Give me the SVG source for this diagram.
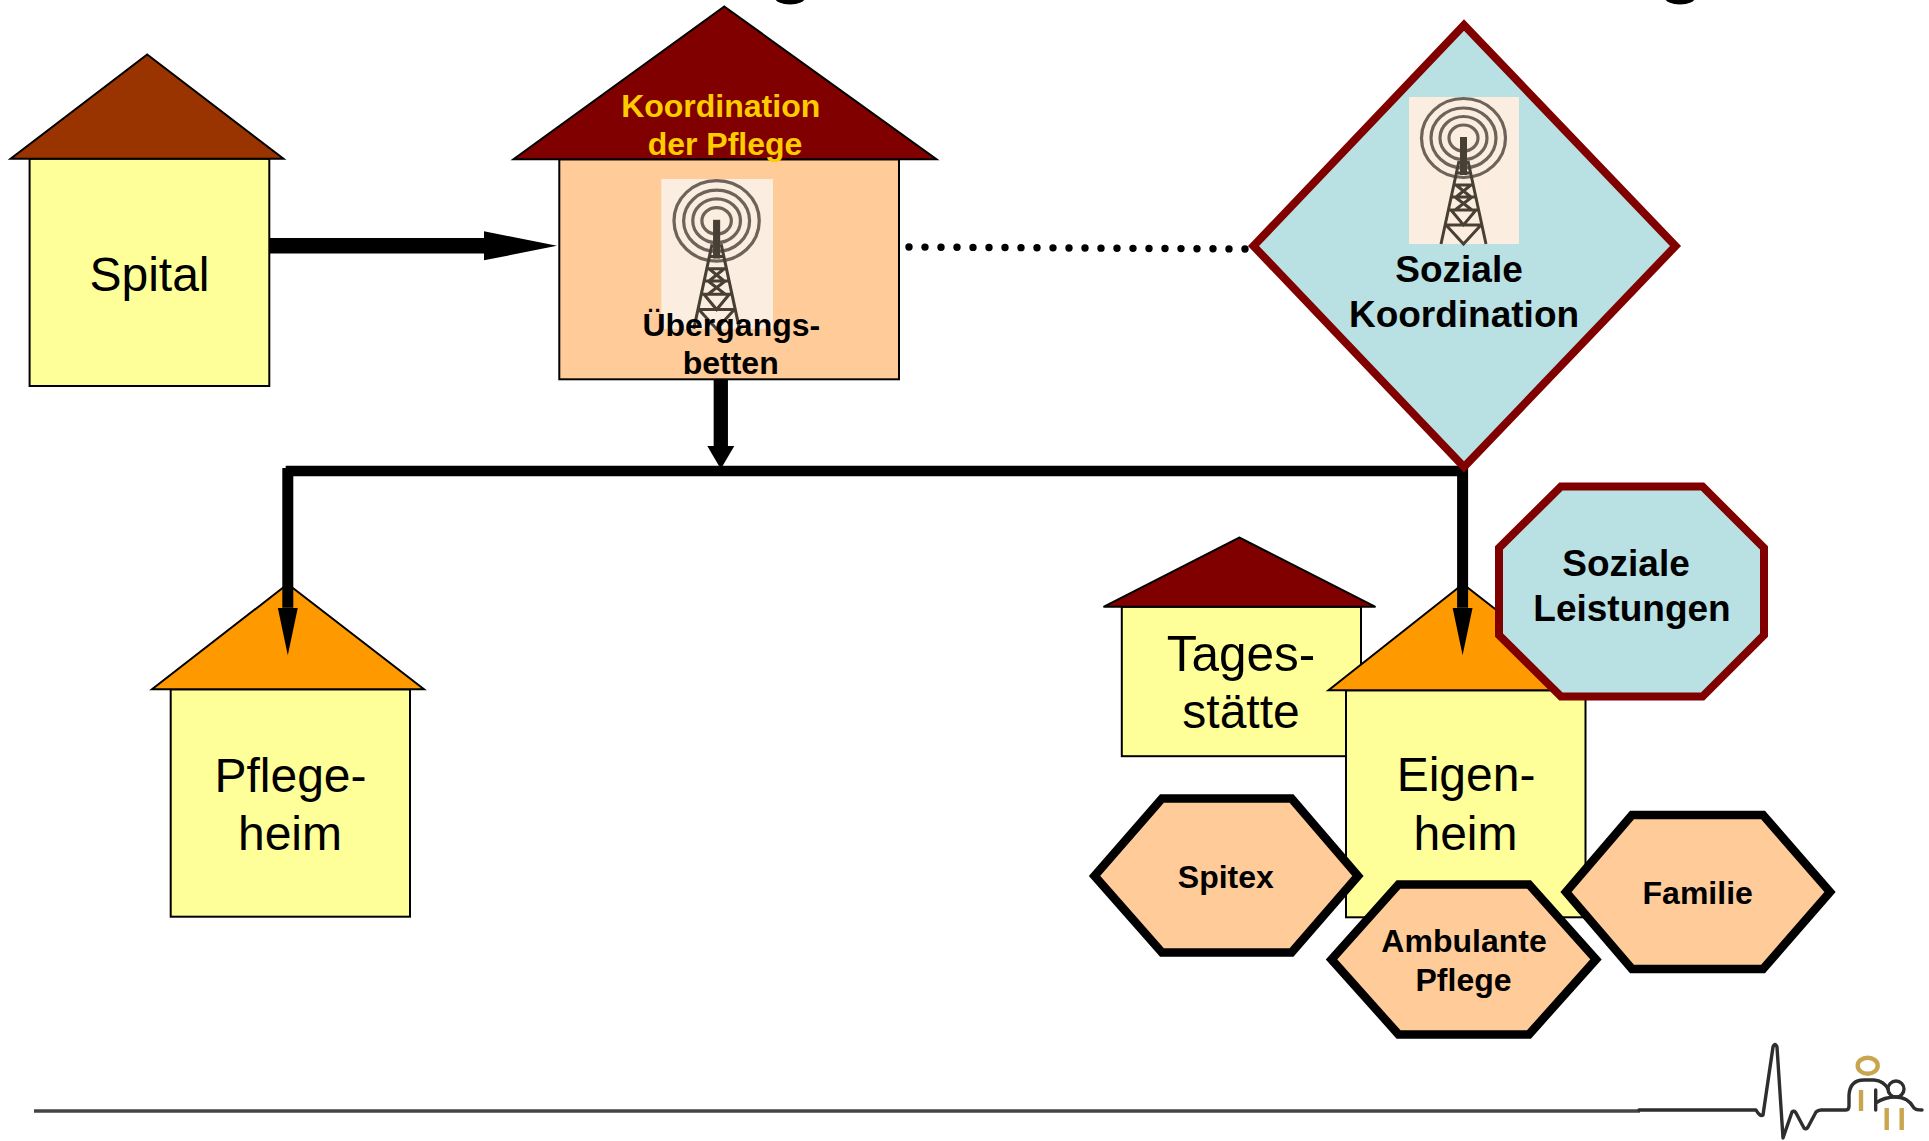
<svg xmlns="http://www.w3.org/2000/svg" xmlns:xlink="http://www.w3.org/1999/xlink" width="1929" height="1141" viewBox="0 0 1929 1141">
<style>
text{font-family:"Liberation Sans",Arial,sans-serif;text-anchor:middle;fill:#000}
.big{font-size:48px}
.b32{font-size:32px;font-weight:bold}
.b36{font-size:37px;font-weight:bold}
.gold{fill:#FFCC00}
.edge{stroke:#000;stroke-width:2;stroke-linejoin:miter}
.yellow{fill:#FFFF99}
.peach{fill:#FFCC99}
.orange{fill:#FF9900}
.maroon{fill:#800000}
.brown{fill:#993300}
.hex{fill:#FFCC99;stroke:#000;stroke-width:8.5;stroke-linejoin:miter}
.soc{fill:#B9E0E3;stroke:#800000;stroke-width:8;stroke-linejoin:miter}
.conn{fill:none;stroke:#000}
.ring{fill:none;stroke:#6E645A;stroke-width:3.2}
.mast{fill:none;stroke:#4A4036;stroke-width:3}
.ecg{fill:none;stroke:#2E2E2E;stroke-width:3.4;stroke-linejoin:round;stroke-linecap:round}
.goldline{fill:none;stroke:#C9A64E;stroke-width:4.4}
</style>
<defs>
<marker id="headLong" markerUnits="userSpaceOnUse" markerWidth="74" markerHeight="30" refX="0" refY="15" orient="auto"><polygon points="0,0.5 73,15 0,29.5" fill="#000"/></marker>
<marker id="headNarrow" markerUnits="userSpaceOnUse" markerWidth="48" markerHeight="22" refX="0" refY="11" orient="auto"><polygon points="0,1 47.5,11 0,21" fill="#000"/></marker>
<marker id="headShort" markerUnits="userSpaceOnUse" markerWidth="24" markerHeight="28" refX="0" refY="14" orient="auto"><polygon points="0,0.5 23,14 0,27.5" fill="#000"/></marker>
<filter id="soft" x="-5%" y="-5%" width="110%" height="110%"><feGaussianBlur stdDeviation="0.7"/></filter>
<g id="tower">
<rect x="0" y="0" width="110" height="147" fill="#FBEEE0"/>
<g filter="url(#soft)">
<ellipse class="ring" cx="54.5" cy="41" rx="42" ry="39.5"/>
<ellipse class="ring" cx="54.5" cy="41" rx="32.5" ry="30"/>
<ellipse class="ring" cx="54.5" cy="41" rx="23.5" ry="21.5"/>
<ellipse class="ring" cx="54.5" cy="41" rx="14.5" ry="13"/>
<path d="M54.5 40V78" stroke="#4A4036" stroke-width="7"/>
<path class="mast" d="M50 64 32 147M59 64 77 147M47 76H62M45 88H64M43 100H66M40 113H69M37 128H72M37 128 54.5 147 72 128M42 113 54.5 128 67 113M46 100 63 113M63 100 46 113M47 88 62 100M62 88 47 100"/>
</g>
</g>
</defs>
<rect width="1929" height="1141" fill="#FFF"/>

<g id="title-fragments">
<ellipse cx="790" cy="-2" rx="15" ry="6.5" fill="#000"/>
<ellipse cx="1680" cy="-2" rx="15" ry="6.5" fill="#000"/>
</g>

<g id="node-spital">
<rect class="edge yellow" x="29.6" y="158.7" width="239.7" height="227.3"/>
<polygon class="edge brown" points="147.2,54.5 283.5,158.7 10.6,158.7"/>
<text class="big" x="149.5" y="290.5">Spital</text>
</g>

<g id="node-koordination-pflege">
<rect class="edge peach" x="559.3" y="159.3" width="339.7" height="220"/>
<polygon class="edge maroon" points="724.3,6.5 936.5,159.3 513.5,159.3"/>
<use xlink:href="#tower" href="#tower" transform="translate(661.3 179) scale(1.015 1.02)"/>
<text class="b32 gold" x="720.7" y="117">Koordination</text>
<text class="b32 gold" x="725" y="155.3">der Pflege</text>
<text class="b32" x="731.3" y="336">Übergangs-</text>
<text class="b32" x="730.7" y="374.3">betten</text>
</g>

<g id="node-tagesstaette">
<rect class="edge yellow" x="1121.8" y="606.8" width="239.2" height="149.4"/>
<polygon class="edge maroon" points="1239.2,537.5 1375.5,606.8 1103.5,606.8"/>
<text class="big" x="1241" y="671" style="font-size:49.5px">Tages-</text>
<text class="big" x="1241" y="728.2">stätte</text>
</g>

<g id="node-pflegeheim">
<rect class="edge yellow" x="170.7" y="689.3" width="239.3" height="227.4"/>
<polygon class="edge orange" points="287.7,584 424,689.3 152,689.3"/>
<text class="big" x="290.5" y="792.2">Pflege-</text>
<text class="big" x="290" y="850.3">heim</text>
</g>

<g id="node-eigenheim">
<rect class="edge yellow" x="1346" y="690.3" width="239.5" height="227"/>
<polygon class="edge orange" points="1463,584 1599.5,690.3 1328.5,690.3"/>
<text class="big" x="1466" y="791.3">Eigen-</text>
<text class="big" x="1465.5" y="849.8">heim</text>
</g>

<g id="connectors">
<line class="conn" x1="270" y1="245.8" x2="484" y2="245.8" stroke-width="15.6" marker-end="url(#headLong)"/>
<line class="conn" x1="720.8" y1="380" x2="720.8" y2="446" stroke-width="14.3" marker-end="url(#headShort)"/>
<line class="conn" x1="285.7" y1="471" x2="1468" y2="471" stroke-width="10.4"/>
<line class="conn" x1="287.8" y1="468" x2="287.8" y2="607.8" stroke-width="11" marker-end="url(#headNarrow)"/>
<line class="conn" x1="1462.6" y1="468" x2="1462.6" y2="607.8" stroke-width="11" marker-end="url(#headNarrow)"/>
</g>

<g id="node-soziale-koordination">
<polygon class="soc" points="1464,25 1675.5,246 1464,467 1253.5,246"/>
<use xlink:href="#tower" href="#tower" transform="translate(1409 97)"/>
<text class="b36" x="1459" y="282.3">Soziale</text>
<text class="b36" x="1464" y="326.9">Koordination</text>
</g>

<g id="connector-dotted">
<line class="conn" x1="909" y1="247" x2="1245" y2="249" stroke-width="7.4" stroke-linecap="round" stroke-dasharray="0 16"/>
</g>

<g id="node-soziale-leistungen">
<polygon class="soc" points="1561,486.5 1702.5,486.5 1764,548 1764,635 1702.5,696.5 1561,696.5 1499,635 1499,548"/>
<text class="b36" x="1626" y="575.6">Soziale</text>
<text class="b36" x="1632" y="621">Leistungen</text>
</g>

<g id="node-spitex">
<polygon class="hex" points="1162,798.4 1291.5,798.4 1358,875.9 1291.5,952.6 1162,952.6 1094.5,875.9"/>
<text class="b32" x="1225.8" y="888">Spitex</text>
</g>

<g id="node-familie">
<polygon class="hex" points="1632,815 1763,815 1830,892 1763,969 1632,969 1566,892"/>
<text class="b32" x="1697.7" y="904">Familie</text>
</g>

<g id="node-ambulante-pflege">
<polygon class="hex" points="1398.5,884.5 1529,884.5 1596,959.4 1529,1034.4 1398.5,1034.4 1331.5,959.4"/>
<text class="b32" x="1464" y="952">Ambulante</text>
<text class="b32" x="1463.5" y="990.5">Pflege</text>
</g>

<g id="footer-logo">
<line x1="34" y1="1111" x2="1640" y2="1111" stroke="#444" stroke-width="3.6"/>
<g filter="url(#soft)">
<path class="ecg" d="M1639 1110H1756Q1760 1117 1763 1115L1773 1047Q1775 1042 1777 1047L1783 1138L1792 1112Q1794 1110 1796 1113L1804 1128Q1806 1130 1808 1127L1816 1112Q1818 1110 1821 1110H1846Q1849 1110 1849 1106V1095Q1850 1080 1864 1080H1874Q1884 1081 1888 1089"/>
<path class="ecg" d="M1875.7 1090V1110M1876 1103Q1884 1097 1896 1097Q1908 1097 1914 1108Q1916 1110 1922 1110"/>
<ellipse class="ecg" cx="1896" cy="1089" rx="8" ry="8"/>
<ellipse class="goldline" cx="1867.7" cy="1065.7" rx="10" ry="8"/>
<path class="goldline" d="M1861 1090V1111M1886.7 1108V1130M1901.7 1108V1130"/>
</g>
</g>
</svg>
